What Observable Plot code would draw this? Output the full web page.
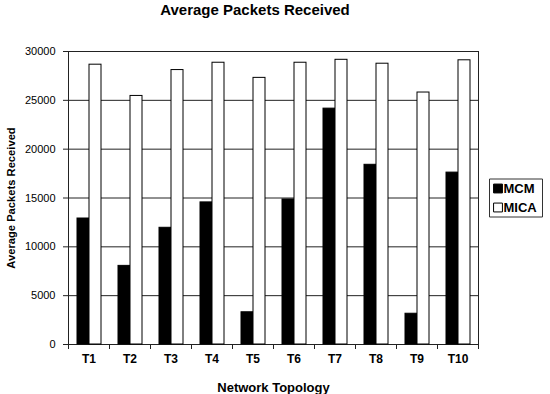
<!DOCTYPE html>
<html>
<head>
<meta charset="utf-8">
<script src="https://cdn.jsdelivr.net/npm/d3@7"></script>
<script src="https://cdn.jsdelivr.net/npm/@observablehq/plot@0.6"></script>
<style>
  html, body { margin: 0; padding: 0; background: white; }
  body { width: 550px; height: 394px; overflow: hidden; font-family: "Liberation Sans", Arial, sans-serif; }
  #title { width: 510px; height: 30px; box-sizing: border-box; padding-top: 2px; text-align: center; font-weight: bold; font-size: 15px; line-height: 15px; color: black; }
  #chart svg { display: block; }
  #chart svg g[aria-label="y-axis label"] text { font-weight: bold; font-size: 11.2px; }
  #chart svg g[aria-label="fx-axis label"] text { font-weight: bold; font-size: 13px; }
  #chart svg g[aria-label="fx-axis tick label"] text { font-weight: bold; font-size: 12px; }
</style>
</head>
<body>
<div id="title">Average Packets Received</div>
<div id="chart"></div>
<script>
const categories = ["T1", "T2", "T3", "T4", "T5", "T6", "T7", "T8", "T9", "T10"];
const seriesNames = ["MCM", "MICA"];
const mcm = [12900, 8050, 11950, 14550, 3300, 14850, 24150, 18400, 3150, 17600];
const mica = [28650, 25450, 28100, 28850, 27300, 28850, 29150, 28750, 25800, 29100];
const yTicks = [0, 5000, 10000, 15000, 20000, 25000, 30000];
const seriesColors = ["black", "white"];

const table = categories.flatMap((c, i) => [
  {topology: c, series: "MCM", value: mcm[i]},
  {topology: c, series: "MICA", value: mica[i]}
]);

const H = 364, MT = 21, MB = 50;
const innerH = H - MT - MB;
const fontFamily = "'Liberation Sans', Arial, sans-serif";

// legend box drawn as a custom symbol (53 x 38 rectangle)
const legendBox = {draw(context) { context.rect(-26.5, -19, 53, 38); }};
const legendMarks = [
  Plot.dot([seriesNames], {frameAnchor: "right", facetAnchor: "right", dx: 37.5, symbol: legendBox, fill: "white", stroke: "#333", strokeWidth: 1}),
  ...seriesNames.map((name, i) => Plot.dot([name], {frameAnchor: "right", facetAnchor: "right", dx: 19.5, dy: i === 0 ? -9.5 : 9.5, symbol: "square", r: 5, fill: seriesColors[i], stroke: "black", strokeWidth: 1})),
  ...seriesNames.map((name, i) => Plot.text([name], {text: d => d, frameAnchor: "right", facetAnchor: "right", dx: 25, dy: i === 0 ? -9.5 : 9.5, textAnchor: "start", lineAnchor: "middle", fontSize: 13, fontWeight: "bold", fill: "black"}))
];

const chart = Plot.plot({
  width: 550,
  height: H,
  marginLeft: 65,
  marginRight: 70,
  marginTop: MT,
  marginBottom: MB,
  style: {fontFamily, fontSize: "11px", background: "white", color: "black", overflow: "visible"},
  fx: {domain: categories, padding: 0, label: null},
  x: {domain: seriesNames, paddingInner: 0, paddingOuter: 0.69, axis: null},
  y: {domain: [0, 30000]},
  color: {domain: seriesNames, range: seriesColors},
  marks: [
    Plot.ruleY(yTicks, {stroke: "#222", strokeWidth: 1}),
    Plot.barY(table, {fx: "topology", x: "series", y: "value", fill: "series", stroke: "black", strokeWidth: 1}),
    Plot.frame({anchor: "left", facetAnchor: "left", stroke: "#222"}),
    Plot.frame({anchor: "right", facetAnchor: "right", stroke: "#222"}),
    Plot.frame({anchor: "left", insetTop: innerH, insetBottom: -4, stroke: "#222"}),
    Plot.frame({anchor: "right", facetAnchor: "right", insetTop: innerH, insetBottom: -4, stroke: "#222"}),
    Plot.axisY(yTicks, {tickSize: 5, tickPadding: 8, label: "Average Packets Received", labelArrow: false, labelAnchor: "center", labelOffset: 61, tickFormat: d => String(d), stroke: "#222"}),
    Plot.axisFx({anchor: "bottom", tickSize: 0, tickPadding: 10, label: "Network Topology", labelArrow: false, labelAnchor: "center", labelOffset: 47}),
    ...legendMarks
  ]
});
document.getElementById("chart").appendChild(chart);
</script>
</body>
</html>
